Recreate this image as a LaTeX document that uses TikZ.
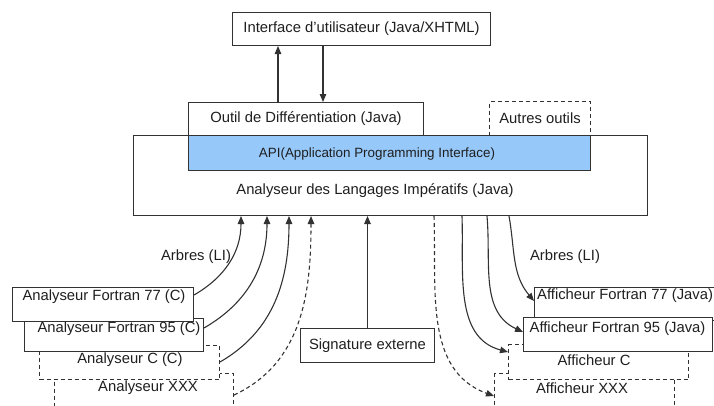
\documentclass[tikz,border=0pt]{standalone}
\usepackage{fontspec}
\setmainfont{Liberation Sans}
\usetikzlibrary{arrows.meta}
\definecolor{lc}{RGB}{50,50,50}
\definecolor{apiblue}{RGB}{150,200,250}
\begin{document}
\begin{tikzpicture}[x=1pt,y=-1pt,
  every node/.style={font=\fontsize{14.8}{17}\selectfont, text=black!88},
  box/.style={draw=lc, line width=1pt, fill=white, inner sep=0pt, anchor=north west},
  dbox/.style={box, dash pattern=on 4pt off 3pt},
  lbl/.style={inner sep=0pt},
  arr/.style={draw=lc, line width=1.1pt, -{Triangle[length=8pt,width=6.5pt]}},
  darr/.style={arr, dash pattern=on 4pt off 3pt},
]
\useasboundingbox (0,0) rectangle (714,405);
\clip (0,0) rectangle (714,405);

% top part
\node[box, minimum width=258pt, minimum height=33pt] (iface) at (232,12) {Interface d’utilisateur (Java/XHTML)};
\node[box, minimum width=235pt, minimum height=33pt] (outil) at (188,102) {Outil de Différentiation (Java)};
\node[dbox, minimum width=101pt, minimum height=34pt] (autres) at (489,101) {Autres outils};
\node[box, minimum width=514pt, minimum height=80pt] (main) at (133,135) {};
\node[box, fill=apiblue, minimum width=402pt, minimum height=35pt] (api) at (188,135) {};
\node[lbl, font=\fontsize{13.4}{15}\selectfont] (apit) at (377,154) {API(Application Programming Interface)};
\node[lbl] (maint) at (375,191) {Analyseur des Langages Impératifs (Java)};

\draw[arr] ([xshift=90pt]outil.north west) -- ([xshift=46pt]iface.south west);
\draw[arr] ([xshift=91pt]iface.south west) -- ([xshift=135pt]outil.north west);

% left boxes
\node[dbox, minimum width=179pt, minimum height=47pt] (xl) at (54,373) {};
\node[lbl] (xlt) at (148,388) {Analyseur XXX};
\node[dbox, minimum width=180pt, minimum height=34pt] (cl) at (39,345) {};
\node[lbl] (clt) at (130,360) {Analyseur C (C)};
\node[box, minimum width=179pt, minimum height=33pt] (f95l) at (24,318) {};
\node[lbl] (f95lt) at (119,329) {Analyseur Fortran 95 (C)};
\node[box, minimum width=181pt, minimum height=34pt] (f77l) at (12,287) {};
\node[lbl] (f77lt) at (104,297) {Analyseur Fortran 77 (C)};

% right boxes
\node[dbox, minimum width=180pt, minimum height=47pt] (xr) at (494,373) {};
\node[lbl] (xrt) at (582,388) {Afficheur XXX};
\node[dbox, minimum width=180pt, minimum height=35pt] (cr) at (508,344) {};
\node[lbl] (crt) at (594,360) {Afficheur C};
\node[box, minimum width=190pt, minimum height=33pt] (f77r) at (534,287) {};
\node[lbl, anchor=west] (f77rt) at (537,296) {Afficheur Fortran 77 (Java)};
\node[box, minimum width=189pt, minimum height=34pt] (f95r) at (523,317) {};
\node[lbl] (f95rt) at (617.5,329) {Afficheur Fortran 95 (Java)};

% signature
\node[box, minimum width=134pt, minimum height=34pt] (sig) at (300,328) {Signature externe};
\draw[arr] (sig.north) -- (sig.north |- main.south);

% labels
\node[lbl] (arbl) at (196,257) {Arbres (LI)};
\node[lbl] (arbr) at (565,257) {Arbres (LI)};

% left arrows
\draw[arr] ([yshift=-8pt]f77l.north east) to[out=30,in=-90] ([xshift=108pt]main.south west);
\draw[arr] ([yshift=-10pt]f95l.north east) to[out=30,in=-90] ([xshift=134pt]main.south west);
\draw[arr] ([yshift=-17pt]cl.north east) to[out=30,in=-90] ([xshift=156pt]main.south west);
\draw[darr] ([yshift=-22pt]xl.north east) to[out=25,in=-90] ([xshift=178pt]main.south west);

% right arrows
\draw[darr] ([xshift=301pt]main.south west) to[out=-88,in=160] ([yshift=-23pt]xr.north west);
\draw[arr] ([xshift=329pt]main.south west) to[out=-88,in=165] ([yshift=-8pt]cr.north west);
\draw[arr] ([xshift=354pt]main.south west) to[out=-85,in=155] ([yshift=-15pt]f95r.north west);
\draw[arr] ([xshift=376pt]main.south west) to[out=-80,in=130] ([yshift=-14pt]f77r.north west);
\end{tikzpicture}
\end{document}
